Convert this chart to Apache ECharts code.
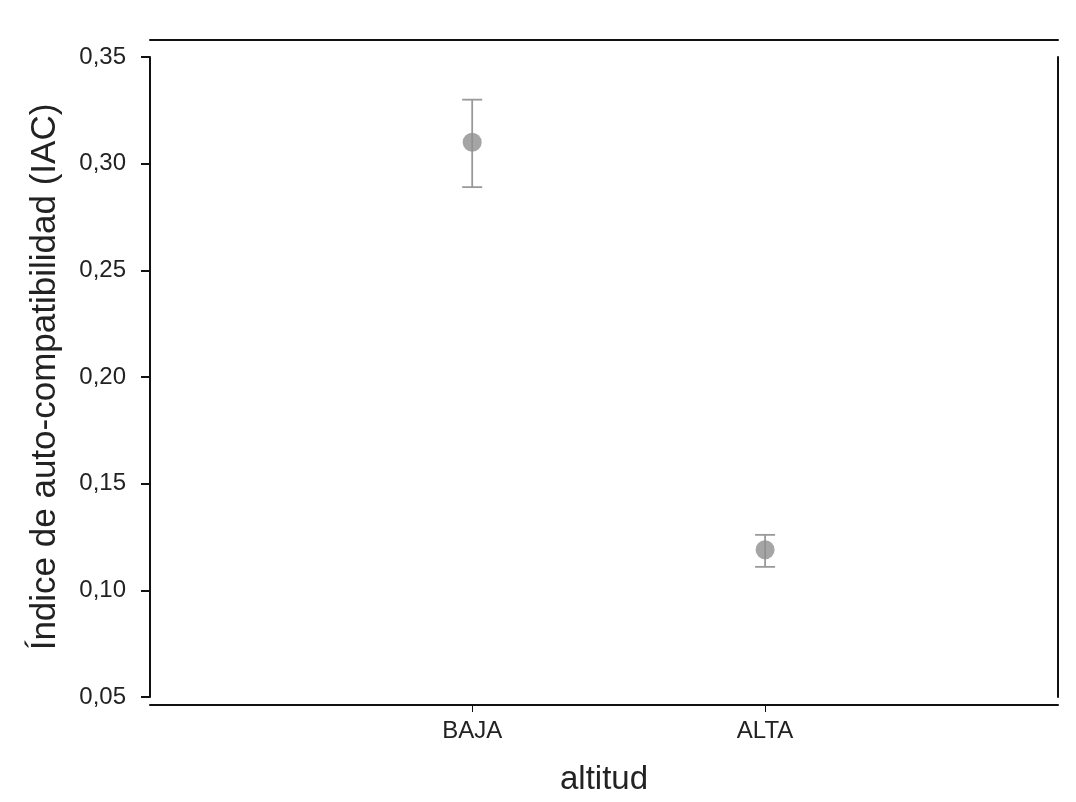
<!DOCTYPE html>
<html>
<head>
<meta charset="utf-8">
<script src="https://cdn.jsdelivr.net/npm/echarts@6/dist/echarts.min.js"></script>
<style>html,body{margin:0;padding:0;background:#fff}#c{width:1076px;height:802px}</style>
</head>
<body>
<div id="c"></div>
<script>
const categories = ['BAJA', 'ALTA'];
const categoryPos = [1, 2];
const meanIAC = [0.31, 0.119];
const lowerIAC = [0.289, 0.111];
const upperIAC = [0.33, 0.126];
const yTicks = [0.05, 0.10, 0.15, 0.20, 0.25, 0.30, 0.35];

const chart = echarts.init(document.getElementById('c'));
const pointData = categoryPos.map((p, i) => [p, meanIAC[i]]);
const errData = categoryPos.map((p, i) => [p, lowerIAC[i], upperIAC[i]]);
const font = 'Liberation Sans, Arial, sans-serif';

chart.setOption({
  backgroundColor: '#fff',
  animation: false,
  grid: { left: 150, right: 18, top: 57, bottom: 105 },
  xAxis: [{
    type: 'value', min: -0.1, max: 3, position: 'bottom', offset: 8,
    name: 'altitud', nameLocation: 'middle', nameGap: 58, nameMoveOverlap: false,
    nameTextStyle: { fontSize: 33, color: '#222', fontFamily: font },
    axisLine: { show: true, onZero: false, lineStyle: { color: '#111', width: 2 } },
    axisTick: { show: true, length: 7, customValues: categoryPos, lineStyle: { color: '#111' } },
    axisLabel: { customValues: categoryPos, margin: 14, fontSize: 24, color: '#222', fontFamily: font,
      formatter: v => categories[categoryPos.indexOf(v)] || '' },
    splitLine: { show: false }
  }, {
    type: 'value', min: -0.1, max: 3, position: 'top', offset: 17,
    axisLine: { show: true, onZero: false, lineStyle: { color: '#111', width: 2 } },
    axisTick: { show: false }, axisLabel: { show: false }, splitLine: { show: false }
  }],
  yAxis: [{
    type: 'value', min: 0.05, max: 0.35, interval: 0.05,
    name: 'Índice de auto-compatibilidad (IAC)', nameLocation: 'middle', nameGap: 87, nameMoveOverlap: false,
    nameTextStyle: { fontSize: 35, color: '#222', fontFamily: font },
    axisLine: { show: true, onZero: false, lineStyle: { color: '#111', width: 2 } },
    axisTick: { show: true, length: 9, lineStyle: { color: '#111', width: 2 } },
    axisLabel: { margin: 24, fontSize: 24, color: '#222', fontFamily: font,
      formatter: v => v.toFixed(2).replace('.', ',') },
    splitLine: { show: false }
  }, {
    type: 'value', min: 0.05, max: 0.35, position: 'right',
    axisLine: { show: true, onZero: false, lineStyle: { color: '#111', width: 2 } },
    axisTick: { show: false }, axisLabel: { show: false }, splitLine: { show: false }
  }],
  series: [{
    type: 'custom',
    data: errData,
    renderItem: function (params, api) {
      const x = api.value(0);
      const lo = api.coord([x, api.value(1)]);
      const hi = api.coord([x, api.value(2)]);
      const w = 10;
      const st = { stroke: '#999', lineWidth: 1.8 };
      return { type: 'group', children: [
        { type: 'line', shape: { x1: lo[0], y1: lo[1], x2: hi[0], y2: hi[1] }, style: st },
        { type: 'line', shape: { x1: lo[0] - w, y1: lo[1], x2: lo[0] + w, y2: lo[1] }, style: st },
        { type: 'line', shape: { x1: hi[0] - w, y1: hi[1], x2: hi[0] + w, y2: hi[1] }, style: st }
      ] };
    },
    z: 2
  }, {
    type: 'scatter',
    data: pointData,
    symbol: 'circle',
    symbolSize: 19,
    itemStyle: { color: '#8e8e8e' },
    z: 3
  }]
});
</script>
</body>
</html>
